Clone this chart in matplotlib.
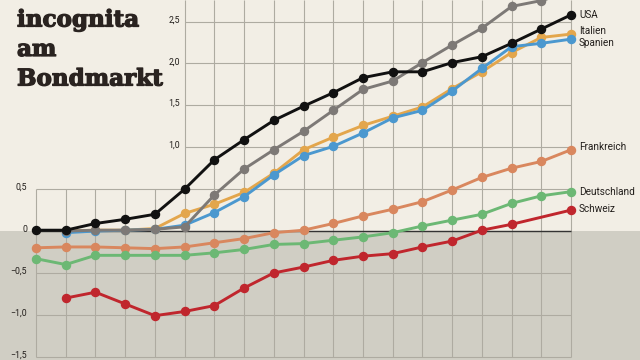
import numpy as np
import matplotlib
matplotlib.use("Agg")
import matplotlib.pyplot as plt
import matplotlib.patheffects as pe

# positions along the x axis (no labels in the original)
punkte = list(range(19))

usa = [0.01, 0.01, 0.09, 0.14, 0.20, 0.50, 0.85, 1.09, 1.32, 1.49, 1.65, 1.83, 1.90, 1.90, 2.01, 2.08, 2.24, 2.41, 2.58]
grau = [None, 0.00, 0.01, 0.01, 0.02, 0.05, 0.43, 0.74, 0.97, 1.19, 1.44, 1.69, 1.79, 2.01, 2.22, 2.42, 2.68, 2.75, 2.85]
italien = [None, 0.00, 0.01, 0.01, 0.03, 0.21, 0.32, 0.46, 0.69, 0.97, 1.12, 1.26, 1.37, 1.48, 1.70, 1.90, 2.13, 2.31, 2.35]
spanien = [None, -0.02, 0.00, 0.01, 0.02, 0.07, 0.22, 0.41, 0.67, 0.90, 1.01, 1.17, 1.35, 1.44, 1.67, 1.94, 2.20, 2.24, 2.29]
frankreich = [-0.20, -0.19, -0.19, -0.20, -0.21, -0.19, -0.14, -0.09, -0.02, 0.01, 0.09, 0.18, 0.26, 0.35, 0.49, 0.64, 0.75, 0.83, 0.97]
deutschland = [-0.33, -0.40, -0.29, -0.29, -0.29, -0.29, -0.26, -0.22, -0.16, -0.15, -0.11, -0.07, -0.02, 0.06, 0.13, 0.20, 0.33, 0.42, 0.47]
schweiz = [None, -0.80, -0.73, -0.87, -1.01, -0.96, -0.89, -0.68, -0.50, -0.43, -0.35, -0.30, -0.27, -0.19, -0.12, 0.01, 0.08, None, 0.25]

tick_unten = [0.5, 0, -0.5, -1.0, -1.5]
tick_oben = [1.0, 1.5, 2.0, 2.5]
tick_text = {0.5: "0,5", 0: "0", -0.5: "\u22120,5", -1.0: "\u22121,0", -1.5: "\u22121,5",
             1.0: "1,0", 1.5: "1,5", 2.0: "2,0", 2.5: "2,5"}

beige = "#f2eee5"
grau_bg = "#d0cec4"
gitter = "#aeaba1"
schrift = "#231f1c"
label_font = ["Liberation Sans Narrow", "Roboto", "DejaVu Sans"]

fig = plt.figure(figsize=(6.4, 3.6), dpi=100)
fig.patch.set_facecolor(beige)
ax = fig.add_axes([0, 0, 1, 1])
ax.set_xlim(-1.211, 20.32)
ax.set_ylim(-1.539, 2.757)
ax.axis("off")

ax.axhspan(-1.539, 0, color=grau_bg, zorder=0, lw=0)

# grid: lower block starts at the left, upper part only from the 6th column
ax.hlines(tick_unten, punkte[0], punkte[-1], color=gitter, lw=0.8, zorder=1)
ax.hlines(tick_oben, punkte[5], punkte[-1], color=gitter, lw=0.8, zorder=1)
ax.vlines(punkte[:5], -1.5, 0.5, color=gitter, lw=0.8, zorder=1)
ax.vlines(punkte[5:], -1.5, 2.757, color=gitter, lw=0.8, zorder=1)
ax.hlines(0, punkte[0], punkte[-1], color="#333333", lw=1.0, zorder=2)

for v in tick_unten:
    ax.text(-0.3, v + 0.02, tick_text[v], ha="right", va="center", fontsize=6.3,
            color=schrift, family=label_font)
for v in tick_oben:
    ax.text(4.85, v + 0.02, tick_text[v], ha="right", va="center", fontsize=6.3,
            color=schrift, family=label_font)

def linie(werte, farbe, z):
    x = [p for p, w in zip(punkte, werte) if w is not None]
    y = [w for w in werte if w is not None]
    ax.plot(x, y, color=farbe, lw=2.1, marker="o", ms=5.8, zorder=z,
            solid_capstyle="round", clip_on=True)

linie(frankreich, "#d9875e", 3)
linie(deutschland, "#6cb874", 3)
linie(schweiz, "#c0262d", 3)
linie(italien, "#e3a64c", 4)
linie(spanien, "#4b98cf", 5)
linie(grau, "#7d7976", 6)
linie(usa, "#111111", 7)

labels = [("USA", usa, 0), ("Italien", italien, 3), ("Spanien", spanien, -4),
          ("Frankreich", frankreich, 3), ("Deutschland", deutschland, 0),
          ("Schweiz", schweiz, 1)]
for name, werte, dy in labels:
    ax.annotate(name, (punkte[-1], werte[-1]), xytext=(5.8, dy * 0.72),
                textcoords="offset points", ha="left", va="center",
                fontsize=7.2, color=schrift, family=label_font)

titel = ["incognita", "am", "Bondmarkt"]
basis = [26.5, 56, 85.5]
for t, b in zip(titel, basis):
    fig.text(17 / 640, 1 - b / 360, t, ha="left", va="baseline", fontsize=16.6,
             fontweight="bold", family="DejaVu Serif", color="#2a2320",
             path_effects=[pe.withStroke(linewidth=0.9, foreground="#2a2320")])

fig.savefig("out.png", dpi=100, facecolor=beige)
